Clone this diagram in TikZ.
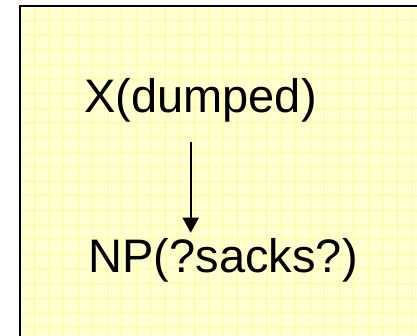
\documentclass[tikz,border=0pt]{standalone}
\usepackage{fontspec}
\setmainfont{Liberation Sans}
\usetikzlibrary{arrows.meta}
\tikzset{>={Triangle[width=16pt,length=15pt]}}
\definecolor{pad}{RGB}{255,255,208}
\definecolor{padgrid}{RGB}{255,255,160}

\begin{document}
\begin{tikzpicture}[x=1pt,y=1pt, word/.style={inner sep=0pt, font=\fontsize{47}{52}\selectfont}]
\useasboundingbox (0,0) rectangle (417,336);
\fill[white] (0,0) rectangle (417,336);
\begin{scope}
\clip (0,0) rectangle (417,336);
\fill[pad] (20,-20) rectangle (440,330);
\draw[padgrid, line width=0.8pt, shift={(20,330)}, xstep=14.5, ystep=14.6] (0,-360) grid (420,0);
\draw[line width=2.5pt] (20,-20) -- (20,330) -- (440,330);
\end{scope}
\node[word, anchor=base west] (xd) at (84,223) {X(dumped)};
\node[word, anchor=base west] (np) at (88.5,63) {NP(?sacks?)};
\coordinate (ax) at (190.7,0);
\draw[->, line width=1.8pt, shorten <=19pt, shorten >=6pt] (xd.south -| ax) -- (np.north -| ax);
\end{tikzpicture}
\end{document}
